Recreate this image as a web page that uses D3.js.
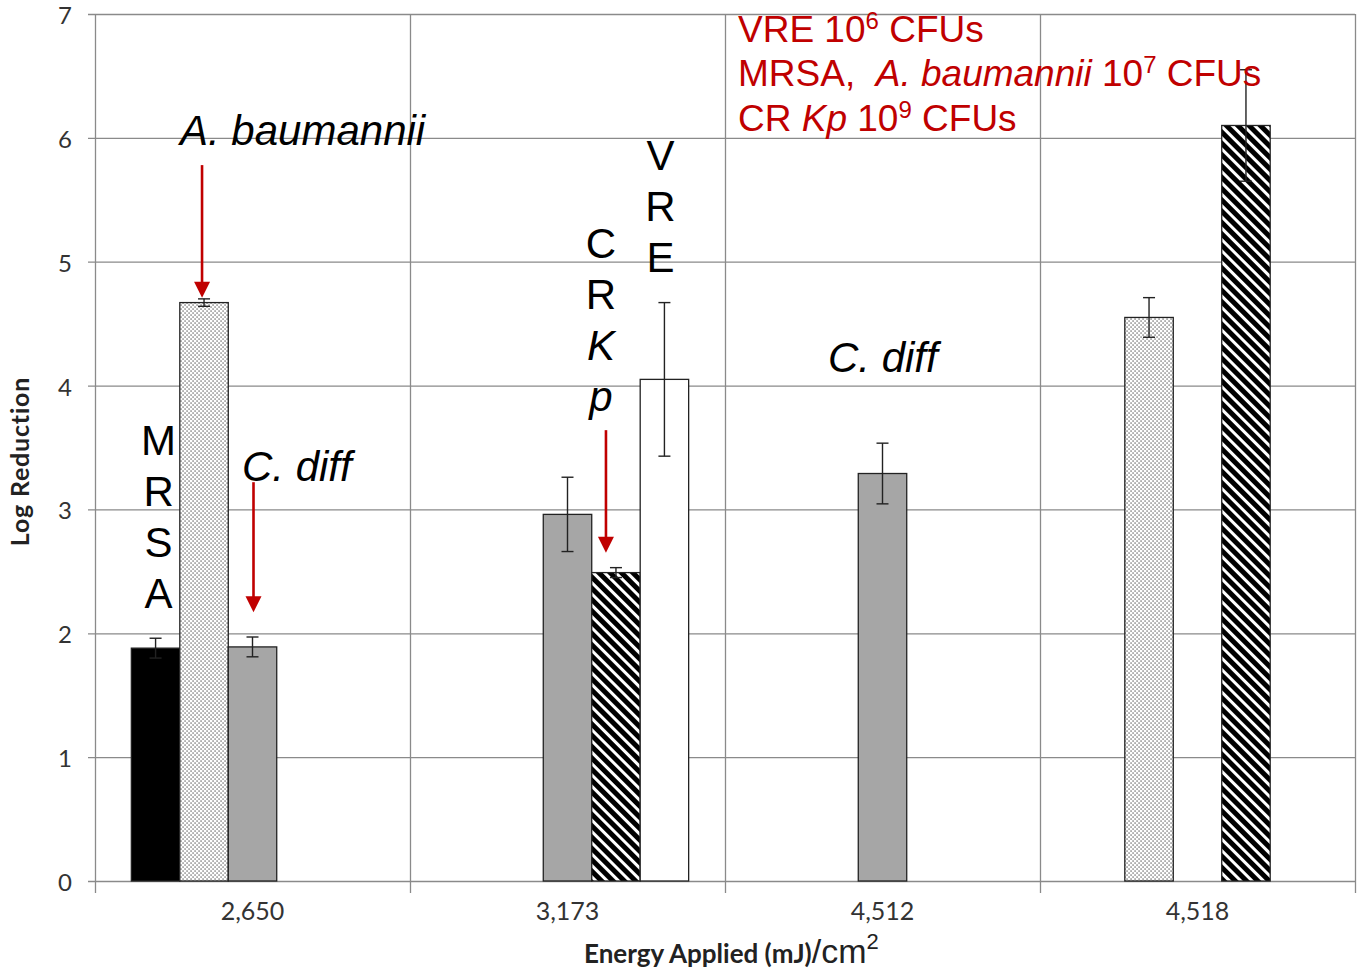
<!DOCTYPE html>
<html>
<head>
<meta charset="utf-8">
<script src="https://cdn.jsdelivr.net/npm/d3@7"></script>
<style>
  html, body { margin: 0; padding: 0; background: #fff; }
  svg { display: block; }
</style>
</head>
<body>
<svg id="chart" width="1362" height="973"></svg>
<script>
// Energy doses (x categories)
const energies = ["2,650", "3,173", "4,512", "4,518"];
// Organisms (bar series within each dose)
const organisms = ["MRSA", "A. baumannii", "C. diff", "CRKp", "VRE"];
// Mean log reduction per organism at each dose (null = not tested)
const mrsaMean   = [1.88, null, null, null];
const abauMean   = [4.67, null, null, 4.55];
const cdiffMean  = [1.89, 2.96, 3.29, null];
const crkpMean   = [null, 2.49, null, 6.10];
const vreMean    = [null, 4.05, null, null];
// Error (± half-range) for each mean
const mrsaErr    = [0.08, null, null, null];
const abauErr    = [0.03, null, null, 0.16];
const cdiffErr   = [0.08, 0.30, 0.245, null];
const crkpErr    = [null, 0.04, null, 0.45];
const vreErr     = [null, 0.62, null, null];
const yTicks = [0, 1, 2, 3, 4, 5, 6, 7];

const means = [mrsaMean, abauMean, cdiffMean, crkpMean, vreMean];
const errs  = [mrsaErr, abauErr, cdiffErr, crkpErr, vreErr];

const svg = d3.select("#chart");
const plotLeft = 95, plotRight = 1355, plotTop = 14, plotBottom = 881;

const x = d3.scaleBand().domain(energies).range([plotLeft, plotRight]).padding(0);
const xs = d3.scaleBand().domain(organisms).range([0, x.bandwidth()])
  .paddingInner(0).paddingOuter(0.75);
const y = d3.scaleLinear().domain([0, 7]).range([plotBottom, plotTop]);

// Fill patterns
const defs = svg.append("defs");
const dots = defs.append("pattern").attr("id", "dots")
  .attr("patternUnits", "userSpaceOnUse").attr("width", 4).attr("height", 4);
dots.append("rect").attr("width", 4).attr("height", 4).attr("fill", "#fff");
dots.append("rect").attr("x", 0.5).attr("y", 0.5).attr("width", 1.1).attr("height", 1.1).attr("fill", "#222");
dots.append("rect").attr("x", 2.5).attr("y", 2.5).attr("width", 1.1).attr("height", 1.1).attr("fill", "#222");

const hatch = defs.append("pattern").attr("id", "hatch")
  .attr("patternUnits", "userSpaceOnUse").attr("width", 8).attr("height", 8)
  .attr("patternTransform", "rotate(45)");
hatch.append("rect").attr("width", 8).attr("height", 8).attr("fill", "#000");
hatch.append("rect").attr("x", 0).attr("y", 0).attr("width", 8).attr("height", 3).attr("fill", "#fff");

const fills = {
  "MRSA": "#000",
  "A. baumannii": "url(#dots)",
  "C. diff": "#a6a6a6",
  "CRKp": "url(#hatch)",
  "VRE": "#fff"
};

// Gridlines
const grid = svg.append("g");
grid.selectAll("line.h").data(yTicks).join("line")
  .attr("x1", plotLeft - 7).attr("x2", plotRight)
  .attr("y1", d => y(d) + 0.5).attr("y2", d => y(d) + 0.5)
  .attr("stroke", "#8a8a8a").attr("stroke-width", 1.3);
const bounds = energies.map(e => x(e)).concat([plotRight]);
grid.selectAll("line.v").data(bounds).join("line")
  .attr("x1", d => Math.round(d) + 0.5).attr("x2", d => Math.round(d) + 0.5)
  .attr("y1", plotTop).attr("y2", plotBottom + 12)
  .attr("stroke", "#8a8a8a").attr("stroke-width", 1.3);

// Y tick labels
svg.append("g").selectAll("text").data(yTicks).join("text")
  .attr("x", 72).attr("y", d => y(d) + 10)
  .attr("text-anchor", "end")
  .attr("font-family", "Lato, 'Open Sans', sans-serif")
  .attr("font-size", 24).attr("fill", "#333")
  .text(d => d);

// X tick labels
svg.append("g").selectAll("text").data(energies).join("text")
  .attr("x", d => x(d) + x.bandwidth() / 2).attr("y", 920)
  .attr("text-anchor", "middle")
  .attr("font-family", "Lato, 'Open Sans', sans-serif")
  .attr("font-size", 25).attr("fill", "#333")
  .text(d => d);

// Bars
const barData = [];
organisms.forEach((o, si) => {
  energies.forEach((e, ci) => {
    const v = means[si][ci];
    if (v != null) barData.push({ org: o, energy: e, value: v, err: errs[si][ci] });
  });
});

const bars = svg.append("g");
bars.selectAll("rect").data(barData).join("rect")
  .attr("x", d => x(d.energy) + xs(d.org))
  .attr("y", d => y(d.value))
  .attr("width", xs.bandwidth())
  .attr("height", d => y(0) - y(d.value))
  .attr("fill", d => fills[d.org])
  .attr("stroke", "#222").attr("stroke-width", 1.3);

// Error bars
const eb = svg.append("g").attr("stroke", "#222").attr("stroke-width", 1.4);
barData.forEach(d => {
  const cx = x(d.energy) + xs(d.org) + xs.bandwidth() / 2;
  eb.append("line").attr("x1", cx).attr("x2", cx)
    .attr("y1", y(d.value + d.err)).attr("y2", y(d.value - d.err));
  [d.value + d.err, d.value - d.err].forEach(v => {
    eb.append("line").attr("x1", cx - 6).attr("x2", cx + 6)
      .attr("y1", y(v)).attr("y2", y(v));
  });
});

// Annotations
const red = "#c00000";
const ann = svg.append("g").attr("font-family", "'Liberation Sans', Arial, sans-serif").attr("fill", "#000");
const barCx = (e, o) => x(e) + xs(o) + xs.bandwidth() / 2;

function arrow(cx, y1, y2) {
  ann.append("line").attr("x1", cx).attr("x2", cx).attr("y1", y1).attr("y2", y2 - 14)
    .attr("stroke", red).attr("stroke-width", 2.6);
  ann.append("path")
    .attr("d", `M${cx - 8},${y2 - 16} L${cx + 8},${y2 - 16} L${cx},${y2} Z`)
    .attr("fill", red);
}

// A. baumannii label + arrow
ann.append("text").attr("x", 180).attr("y", y(5.94))
  .attr("font-size", 42).attr("font-style", "italic").text("A. baumannii");
arrow(barCx("2,650", "A. baumannii") - 2, y(5.78), y(4.71));

// MRSA stacked letters
["M", "R", "S", "A"].forEach((c, i) => {
  ann.append("text").attr("x", barCx("2,650", "MRSA") + 3).attr("y", y(3.44) + i * 51)
    .attr("text-anchor", "middle").attr("font-size", 42).text(c);
});

// C. diff label + arrow at 2,650
ann.append("text").attr("x", 242).attr("y", y(3.23))
  .attr("font-size", 42).attr("font-style", "italic").text("C. diff");
arrow(barCx("2,650", "C. diff") + 1, y(3.22), y(2.17));

// CRKp stacked letters
[["C", false], ["R", false], ["K", true], ["p", true]].forEach(([c, it], i) => {
  ann.append("text").attr("x", barCx("3,173", "CRKp") - 15).attr("y", y(5.03) + i * 51)
    .attr("text-anchor", "middle").attr("font-size", 42)
    .attr("font-style", it ? "italic" : "normal").text(c);
});
arrow(barCx("3,173", "CRKp") - 10, y(3.64), y(2.65));

// VRE stacked letters
["V", "R", "E"].forEach((c, i) => {
  ann.append("text").attr("x", barCx("3,173", "VRE") - 4).attr("y", y(5.74) + i * 51)
    .attr("text-anchor", "middle").attr("font-size", 42).text(c);
});

// C. diff label at 4,512
ann.append("text").attr("x", 828).attr("y", y(4.11))
  .attr("font-size", 42).attr("font-style", "italic").text("C. diff");

// Inoculum notes
const notes = svg.append("g").attr("font-family", "'Liberation Sans', Arial, sans-serif")
  .attr("font-size", 37).attr("fill", red);
function sup(t, txt) {
  t.append("tspan").attr("font-size", 24).attr("dy", -13).text(txt);
}
const n1 = notes.append("text").attr("x", 738).attr("y", 42);
n1.append("tspan").text("VRE 10");
sup(n1, "6");
n1.append("tspan").attr("dy", 13).text(" CFUs");
const n2 = notes.append("text").attr("x", 738).attr("y", 86);
n2.append("tspan").text("MRSA,\u00a0\u00a0");
n2.append("tspan").attr("font-style", "italic").text("A. baumannii");
n2.append("tspan").text(" 10");
sup(n2, "7");
n2.append("tspan").attr("dy", 13).text(" CFUs");
const n3 = notes.append("text").attr("x", 738).attr("y", 131);
n3.append("tspan").text("CR ");
n3.append("tspan").attr("font-style", "italic").text("Kp");
n3.append("tspan").text(" 10");
sup(n3, "9");
n3.append("tspan").attr("dy", 13).text(" CFUs");

// Axis titles
svg.append("text")
  .attr("transform", `translate(29, ${(plotTop + plotBottom) / 2 + 14}) rotate(-90)`)
  .attr("text-anchor", "middle")
  .attr("font-family", "Lato, 'Open Sans', sans-serif")
  .attr("font-weight", "bold").attr("font-size", 25).attr("letter-spacing", 0.8).attr("fill", "#222")
  .text("Log Reduction");

const xt = svg.append("text").attr("x", 584).attr("y", 963)
  .attr("font-family", "Lato, 'Open Sans', sans-serif").attr("fill", "#222");
xt.append("tspan").attr("font-weight", "bold").attr("font-size", 26).text("Energy Applied (mJ)");
xt.append("tspan").attr("font-family", "'Liberation Sans', Arial, sans-serif")
  .attr("font-size", 34).text("/cm");
xt.append("tspan").attr("font-family", "'Liberation Sans', Arial, sans-serif")
  .attr("font-size", 22).attr("dy", -14).text("2");
</script>
</body>
</html>
